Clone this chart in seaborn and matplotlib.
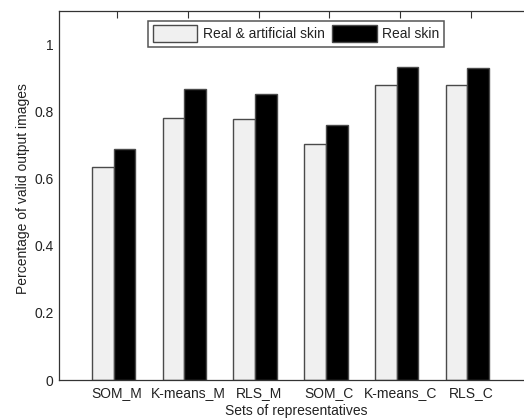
import matplotlib
matplotlib.use("Agg")
import matplotlib.pyplot as plt
import seaborn as sns
import pandas as pd
import numpy as np

categories = ["SOM_M", "K-means_M", "RLS_M", "SOM_C", "K-means_C", "RLS_C"]
real_artificial = [0.636, 0.782, 0.779, 0.703, 0.878, 0.878]
real_skin = [0.688, 0.867, 0.853, 0.759, 0.934, 0.930]
series_names = ["Real & artificial skin", "Real skin"]
yticks = [0, 0.2, 0.4, 0.6, 0.8, 1.0]
ytick_labels = ["0", "0.2", "0.4", "0.6", "0.8", "1"]

df = pd.DataFrame({
    "set": categories * 2,
    "value": real_artificial + real_skin,
    "series": [series_names[0]] * len(categories) + [series_names[1]] * len(categories),
})

sns.set_style("white")
plt.rcParams["font.family"] = ["Liberation Sans", "DejaVu Sans"]
FS = 10.0

fig = plt.figure(figsize=(5.24, 4.19), dpi=100)
ax = fig.add_axes([59 / 524, 39 / 419, 475 / 524, 369 / 419])

sns.barplot(data=df, x="set", y="value", hue="series", order=categories,
            hue_order=series_names, palette=["#f0f0f0", "#000000"],
            width=0.612, edgecolor="#4a4a4a", linewidth=1.0, ax=ax,
            errorbar=None, saturation=1)

ax.set_xlim(-0.77, 5.94)
ax.set_ylim(0, 1.1)
ax.set_xticks(np.arange(len(categories)) + 0.05)
ax.set_xticklabels(categories)
ax.set_yticks(yticks)
ax.set_yticklabels(ytick_labels)
ax.tick_params(direction="in", length=5, width=0.8, top=True, right=False,
               colors="#333333", labelcolor="#222222", labelsize=FS, pad=4)
ax.spines["right"].set_visible(False)
for s in ax.spines.values():
    s.set_color("#333333")
    s.set_linewidth(0.9)

ax.set_xlabel("Sets of representatives", fontsize=FS, color="#222222", labelpad=3)
ax.set_ylabel("Percentage of valid output images", fontsize=FS, color="#222222")
ax.yaxis.set_label_coords(-0.062, 0.52)

leg = ax.legend(ncol=2, loc="upper left", bbox_to_anchor=(0.187, 0.974),
                borderaxespad=0, frameon=True, fancybox=False, framealpha=1,
                edgecolor="#555555", handlelength=3.2, handleheight=1.45,
                columnspacing=0.55, handletextpad=0.4, borderpad=0.35,
                fontsize=FS)
leg.get_frame().set_linewidth(1.1)
for t in leg.get_texts():
    t.set_color("#222222")

fig.savefig("out.png", dpi=100)
